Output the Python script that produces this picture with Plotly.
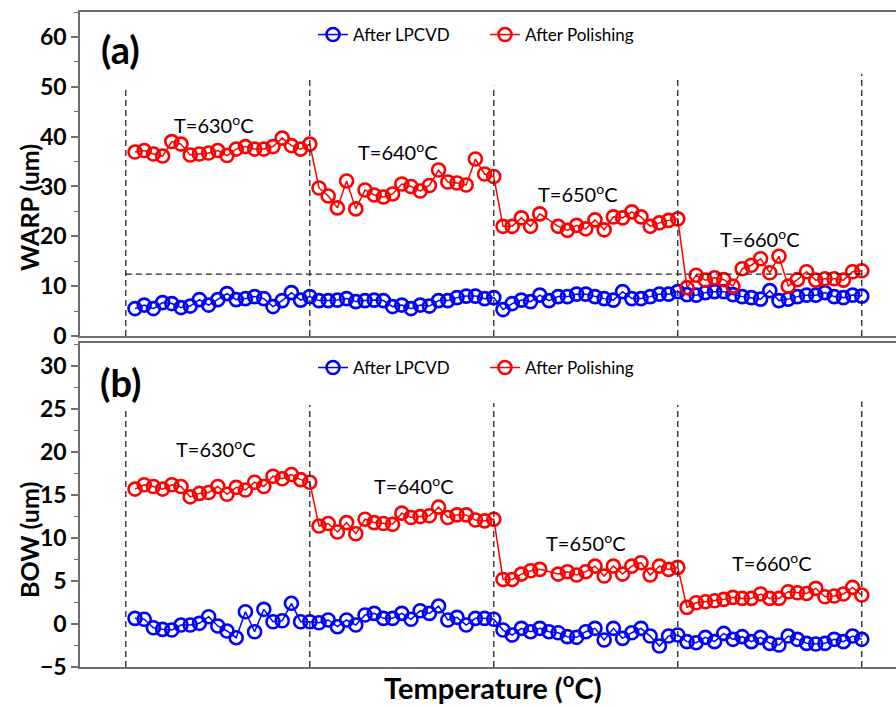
import plotly.graph_objects as go

# ---------------- data ----------------
sample_index = list(range(1, 81))
segment_bounds = [0, 20, 40, 60, 80]
temp_labels = ["T=630<sup>o</sup>C", "T=640<sup>o</sup>C", "T=650<sup>o</sup>C", "T=660<sup>o</sup>C"]

warp_lpcvd = [5.5, 6.2, 5.5, 6.7, 6.5, 5.7, 6.0, 7.3, 6.2, 7.3, 8.5, 7.3, 7.5, 7.9, 7.5, 5.9, 7.1, 8.7, 7.2, 7.9,
              7.1, 7.1, 7.2, 7.5, 6.9, 7.1, 7.2, 7.1, 5.9, 6.2, 5.5, 6.2, 6.0, 7.1, 7.1, 7.7, 8.0, 8.0, 7.5, 7.7,
              5.3, 6.5, 7.2, 6.9, 8.2, 7.1, 7.9, 7.9, 8.4, 8.4, 7.9, 7.5, 7.2, 8.9, 7.5, 7.5, 7.9, 8.4, 8.4, 8.9,
              8.3, 8.2, 8.7, 8.9, 8.9, 8.3, 7.9, 7.7, 7.4, 9.1, 7.1, 7.4, 7.9, 8.2, 8.2, 8.7, 7.9, 7.7, 8.2, 8.0]
warp_polish = [36.9, 37.2, 36.5, 36.1, 39.0, 38.5, 36.3, 36.5, 36.7, 37.2, 36.2, 37.5, 38.0, 37.5, 37.5, 38.0, 39.7, 38.2, 37.5, 38.5,
               29.7, 28.1, 25.7, 31.1, 25.5, 29.3, 28.3, 27.9, 28.5, 30.5, 30.0, 29.1, 30.2, 33.3, 30.9, 30.7, 30.3, 35.5, 32.5, 32.0,
               22.0, 22.0, 23.7, 22.0, 24.5, None, 22.0, 21.2, 22.2, 21.5, 23.3, 21.3, 23.9, 23.7, 24.9, 23.9, 22.0, 22.7, 23.2, 23.5,
               9.7, 12.2, 11.2, 11.7, 11.3, 10.0, 13.5, 14.2, 15.5, 12.7, 16.0, 10.0, 11.3, 12.9, 11.2, 11.5, 11.5, 11.2, 12.9, 13.1]
bow_lpcvd = [0.66, 0.55, -0.43, -0.62, -0.70, -0.12, -0.12, 0.08, 0.85, -0.23, -0.81, -1.59, 1.43, -0.90, 1.71, 0.27, 0.38, 2.41, 0.27, 0.27,
             0.15, 0.47, -0.31, 0.47, -0.12, 1.05, 1.24, 0.66, 0.66, 1.24, 0.55, 1.55, 1.24, 2.09, 0.47, 0.78, -0.12, 0.66, 0.66, 0.55,
             -0.70, -1.28, -0.50, -0.89, -0.50, -0.89, -1.01, -1.47, -1.55, -0.89, -0.50, -1.86, -0.50, -1.67, -1.01, -0.50, -1.40, -2.56, -1.40, -1.28,
             -2.05, -2.17, -1.55, -2.05, -1.09, -1.78, -1.47, -2.05, -1.55, -2.25, -2.44, -1.40, -1.78, -2.25, -2.33, -2.25, -1.78, -2.05, -1.40, -1.78]
bow_polish = [15.7, 16.2, 16.0, 15.7, 16.2, 16.0, 14.8, 15.2, 15.3, 16.0, 15.1, 15.9, 15.6, 16.5, 16.0, 17.2, 16.9, 17.4, 16.8, 16.5,
              11.4, 11.7, 10.7, 11.8, 10.5, 12.2, 11.8, 11.7, 11.6, 12.9, 12.4, 12.5, 12.6, 13.6, 12.4, 12.7, 12.7, 12.1, 12.0, 12.2,
              5.19, 5.19, 5.81, 6.2, 6.36, None, 5.81, 6.09, 5.7, 6.09, 6.74, 5.58, 6.74, 5.81, 6.74, 7.13, 5.7, 6.74, 6.36, 6.59,
              1.94, 2.48, 2.6, 2.71, 2.87, 3.1, 2.98, 2.98, 3.49, 2.98, 2.98, 3.76, 3.64, 3.56, 4.15, 3.18, 3.26, 3.49, 4.26, 3.37]

warp_vline_top = [49.8, 51.4, 50.2, 51.6, 52.6]
bow_vline_top = [25.2, 25.5, 25.7, 25.5, 25.9]
warp_hline = 12.4
warp_label_pos = [(9.6, 42.6), (29.6, 37.2), (49.2, 28.6), (68.9, 19.6)]
bow_label_pos = [(9.8, 20.5), (31.3, 16.2), (50.0, 9.5), (70.2, 7.2)]

# ---------------- styling ----------------
FONT = "Lato"
BLUE = "#0000FF"
RED = "#FF0000"
AX = "#6e6e6e"

fig = go.Figure()


def add_series(y, color, name, xa, ya, legend):
    fig.add_trace(go.Scatter(
        x=sample_index, y=y, mode="lines+markers", name=name,
        xaxis=xa, yaxis=ya, legend=legend, showlegend=True, connectgaps=True,
        line=dict(color=color, width=1.5),
        marker=dict(symbol="circle-open", size=13, color=color, line=dict(width=2.6, color=color)),
    ))


add_series(warp_lpcvd, BLUE, "After LPCVD", "x", "y", "legend")
add_series(warp_polish, RED, "After Polishing", "x", "y", "legend")
add_series(bow_lpcvd, BLUE, "After LPCVD", "x2", "y2", "legend2")
add_series(bow_polish, RED, "After Polishing", "x2", "y2", "legend2")

shapes = []
dash_line = dict(color="#222", width=1.3, dash="6px,4px")
for b, top in zip(segment_bounds, warp_vline_top):
    shapes.append(dict(type="line", xref="x", yref="y", x0=b, x1=b, y0=0, y1=top, line=dash_line))
for b, top in zip(segment_bounds, bow_vline_top):
    shapes.append(dict(type="line", xref="x2", yref="y2", x0=b, x1=b, y0=-5, y1=top, line=dash_line))
shapes.append(dict(type="line", xref="x", yref="y", x0=segment_bounds[0], x1=segment_bounds[-1],
                   y0=warp_hline, y1=warp_hline, line=dash_line))

annotations = []
for txt, (ax_, ay_) in zip(temp_labels, warp_label_pos):
    annotations.append(dict(x=ax_, y=ay_, xref="x", yref="y", text=txt, showarrow=False,
                            xanchor="center", yanchor="middle",
                            font=dict(family=FONT, size=20, color="black")))
for txt, (ax_, ay_) in zip(temp_labels, bow_label_pos):
    annotations.append(dict(x=ax_, y=ay_, xref="x2", yref="y2", text=txt, showarrow=False,
                            xanchor="center", yanchor="middle",
                            font=dict(family=FONT, size=20, color="black")))

W, H = 896, 707


def paper_text(px, py, text, size, angle=0):
    return dict(x=px / W, y=1 - py / H, xref="paper", yref="paper", text=text, showarrow=False,
                xanchor="center", yanchor="middle", textangle=angle,
                font=dict(family=FONT, size=size, color="black", weight="bold"))


annotations += [
    paper_text(120, 49, "(a)", 38),
    paper_text(120, 382, "(b)", 38),
    paper_text(29, 208, "WARP (um)", 25, -90),
    paper_text(29, 540, "BOW (um)", 25, -90),
    paper_text(493, 686, "Temperature (<sup>o</sup>C)", 29),
]

x_dom = [80 / W, 1.0]
x_range = [-4.98, 83.72]
tickfont = dict(family=FONT, size=23, color="black", weight="bold")

xcommon = dict(range=x_range, domain=x_dom, showgrid=False, zeroline=False, showticklabels=False,
               ticks="", showline=True, linecolor=AX, linewidth=1.5, mirror=True, automargin=False)
ycommon = dict(showgrid=False, zeroline=False, showline=True, linecolor=AX, linewidth=1.5,
               ticks="outside", ticklen=7, tickwidth=1.5, tickcolor=AX, tickfont=tickfont,
               automargin=False)

legend_common = dict(orientation="h", xanchor="left", yanchor="middle",
                     font=dict(family=FONT, size=17, color="black"), bgcolor="rgba(0,0,0,0)",
                     entrywidth=127, entrywidthmode="pixels")

fig.update_layout(
    width=W, height=H, autosize=False,
    margin=dict(l=0, r=0, t=0, b=0, pad=0, autoexpand=False),
    plot_bgcolor="white", paper_bgcolor="white",
    font=dict(family=FONT),
    xaxis=dict(**xcommon, anchor="y"),
    yaxis=dict(**ycommon, anchor="x", domain=[1 - 336 / H, 1 - 12 / H], range=[0, 65],
               tick0=0, dtick=10,
               minor=dict(dtick=5, ticks="outside", ticklen=4, tickwidth=1.2, tickcolor=AX)),
    xaxis2=dict(**xcommon, anchor="y2"),
    yaxis2=dict(**ycommon, anchor="x2", domain=[1 - 667 / H, 1 - 343 / H], range=[-5, 32.7],
                tick0=0, dtick=5,
                minor=dict(dtick=2.5, ticks="outside", ticklen=4, tickwidth=1.2, tickcolor=AX)),
    legend=dict(**legend_common, x=313 / W, y=1 - 35 / H),
    legend2=dict(**legend_common, x=313 / W, y=1 - 368 / H),
    shapes=shapes,
    annotations=annotations,
)

fig.write_html("out.html")
